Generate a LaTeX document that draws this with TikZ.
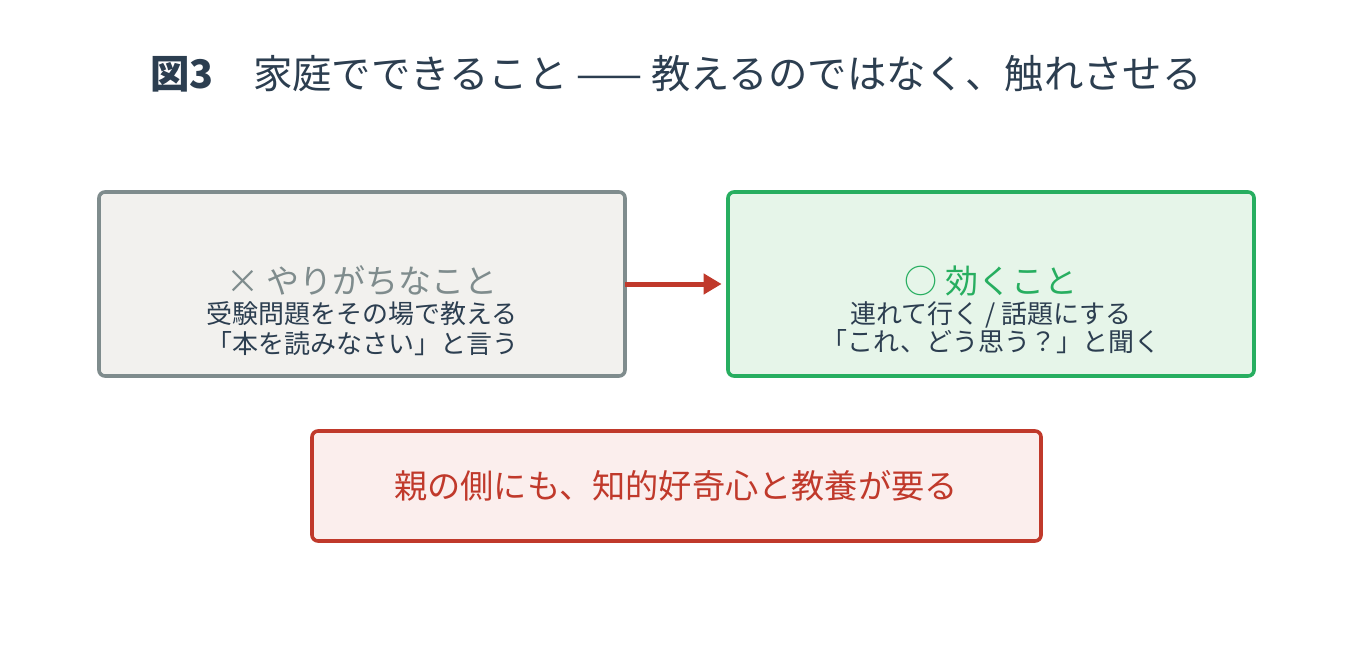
\documentclass[tikz,border=0pt]{standalone}
\usepackage{fontspec}
\usetikzlibrary{arrows.meta}
\setmainfont{Noto Sans CJK JP}
\definecolor{ink}{HTML}{2C3E50}
\definecolor{gr}{HTML}{7F8C8D}
\definecolor{grf}{HTML}{F2F1EE}
\definecolor{gn}{HTML}{27AE60}
\definecolor{gnf}{HTML}{E6F5E9}
\definecolor{rd}{HTML}{C0392B}
\definecolor{rdf}{HTML}{FBEEED}
\begin{document}
\begin{tikzpicture}[x=0.5pt,y=-0.5pt,
  box/.style={draw,line width=1.8pt,rounded corners=3pt},
  txt/.style={inner sep=0pt,anchor=base},
  sub/.style={txt,text=ink,font=\fontsize{13}{15}\selectfont},
  head/.style={txt,font=\fontsize{16.5}{18}\selectfont}]
\useasboundingbox[fill=white] (0,0) rectangle (1353,652);
\node[txt,text=ink,font=\fontsize{19.7}{22}\selectfont] (title) at (676,89) {\textbf{図3}\quad 家庭でできること —— 教えるのではなく、触れさせる};
\draw[box,draw=gr,fill=grf] (99,192) rectangle (625,376);
\node[minimum width=263pt,minimum height=92pt] (L) at (362,284) {};
\draw[box,draw=gn,fill=gnf] (728,192) rectangle (1254,376);
\node[minimum width=263pt,minimum height=92pt] (R) at (991,284) {};
\draw[box,draw=rd,fill=rdf] (312,431) rectangle (1041,541);
\node[txt,text=rd,font=\fontsize{16.6}{18}\selectfont] (B) at (676,498) {親の側にも、知的好奇心と教養が要る};
\node[head,text=gr] (l1) at (362,293) {× やりがちなこと};
\node[sub] (l2) at (362,323) {受験問題をその場で教える};
\node[sub] (l3) at (362,353) {「本を読みなさい」と言う};
\node[head,text=gn] (r1) at (991,293) {○ 効くこと};
\node[sub] (r2) at (991,323) {連れて行く / 話題にする};
\node[sub] (r3) at (991,351) {「これ、どう思う？」と聞く};
\draw[rd,line width=2.5pt,-{Triangle[length=9pt,width=10pt]}] (L.east) -- ([xshift=-3pt]R.west);
\end{tikzpicture}
\end{document}
